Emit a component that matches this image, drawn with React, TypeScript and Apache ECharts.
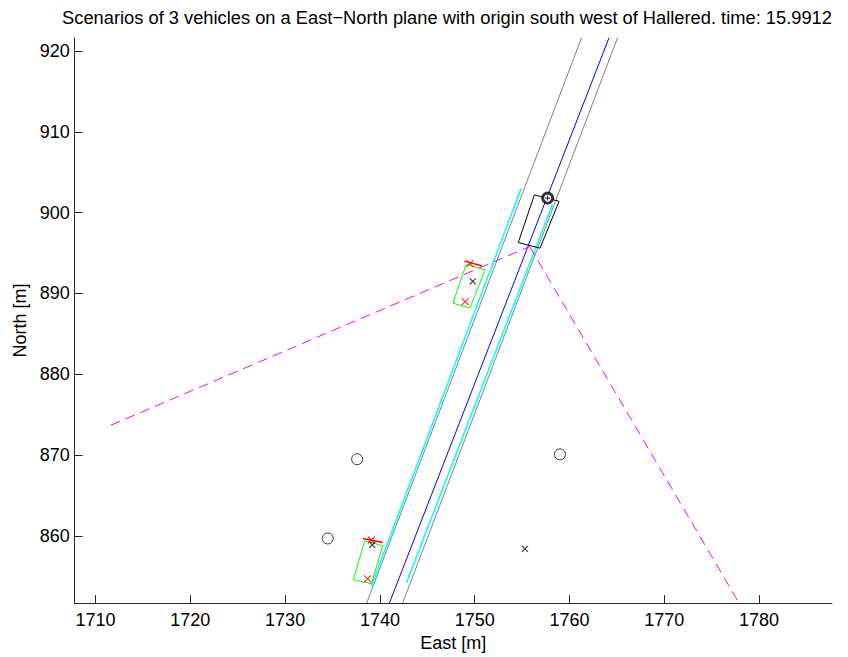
import { useEffect, useRef } from 'react';
import * as echarts from 'echarts';

const titleText = 'Scenarios of 3 vehicles on a East\u2212North plane with origin south west of Hallered. time: 15.9912';
const xName = 'East [m]';
const yName = 'North [m]';

const xTicks = [1710, 1720, 1730, 1740, 1750, 1760, 1770, 1780];
const yTicks = [860, 870, 880, 890, 900, 910, 920];
const xRange = [1707.8, 1787.7];
const yRange = [851.7, 921.6];

// road boundaries (gray) and centre line (blue)
const roadLeft = [[1738.6, 851.7], [1761.3, 921.7]];
const roadRight = [[1742.4, 851.7], [1765.1, 921.7]];
const centerLine = [[1741.0, 851.7], [1764.2, 921.7]];

// lane lines (cyan)
const laneLeft = [[1739.1, 853.8], [1754.9, 903.0]];
const laneRight = [[1742.8, 854.2], [1758.2, 901.0]];

// sensor field of view (magenta dashed)
const fovLeft = [[1711.6, 873.7], [1755.8, 895.8]];
const fovRight = [[1755.8, 895.8], [1777.9, 851.7]];

// ego vehicle box (black)
const egoBox = [[1756.3, 902.2], [1758.9, 901.4], [1756.9, 895.6], [1754.6, 896.3], [1756.3, 902.2]];
// other vehicles (green)
const vehicleBox1 = [[1749.1, 893.6], [1751.1, 892.9], [1749.5, 888.2], [1747.7, 888.8], [1749.1, 893.6]];
const vehicleBox2 = [[1738.4, 859.4], [1740.3, 858.8], [1739.1, 854.1], [1737.2, 854.6], [1738.4, 859.4]];
// heading marks (red)
const heading1 = [[1748.9, 894.0], [1750.8, 893.4]];
const heading2 = [[1738.2, 859.7], [1740.3, 859.2]];

const redCrosses = [[1749.5, 893.7], [1749.0, 889.0], [1739.1, 859.5], [1738.7, 854.7]];
const blackCrosses = [[1749.8, 891.5], [1739.2, 858.9], [1755.3, 858.4]];
const openCircles = [[1737.6, 869.5], [1734.5, 859.7], [1759.0, 870.1]];
const egoPoint = [[1757.7, 901.8]];

const FONT = 'Liberation Sans, Arial, Helvetica, sans-serif';
const AXIS_COLOR = '#262626';
const crossPath = 'path://M0,0L10,10M10,0L0,10';
const plusPath = 'path://M5,0L5,10M0,5L10,5';

function line(data: number[][], color: string, width = 1, type: any = 'solid', z = 2) {
  return {
    type: 'line',
    data,
    symbol: 'none',
    silent: true,
    z,
    lineStyle: { color, width, type },
  };
}

export default function App() {
  const ref = useRef<HTMLDivElement>(null);
  useEffect(() => {
    const chart = echarts.init(ref.current!, null, { renderer: 'svg' });
    chart.setOption({
      animation: false,
      backgroundColor: '#ffffff',
      textStyle: { fontFamily: FONT },
      grid: { left: 74.7, right: 16, top: 38, bottom: 48.3, containLabel: false },
      graphic: [
        {
          type: 'text',
          x: 447,
          y: 17,
          silent: true,
          style: {
            text: titleText,
            fontSize: 18.3,
            fontFamily: FONT,
            fill: '#000',
            align: 'center',
            verticalAlign: 'middle',
          },
        },
      ],
      xAxis: {
        type: 'value',
        min: xRange[0],
        max: xRange[1],
        name: xName,
        nameLocation: 'middle',
        nameGap: 24,
        nameTextStyle: { fontSize: 18, color: '#000', fontFamily: FONT },
        axisLine: { show: true, onZero: false, lineStyle: { color: AXIS_COLOR, width: 1 } },
        axisTick: { show: true, inside: true, length: 8, customValues: xTicks, lineStyle: { color: AXIS_COLOR } },
        axisLabel: {
          show: true,
          customValues: xTicks,
          fontSize: 18,
          color: '#000',
          margin: 8,
          fontFamily: FONT,
          formatter: (v: number) => String(v),
        },
        splitLine: { show: false },
      },
      yAxis: {
        type: 'value',
        min: yRange[0],
        max: yRange[1],
        name: yName,
        nameLocation: 'middle',
        nameGap: 42,
        nameTextStyle: { fontSize: 18, color: '#000', fontFamily: FONT },
        axisLine: { show: true, onZero: false, lineStyle: { color: AXIS_COLOR, width: 1 } },
        axisTick: { show: true, inside: true, length: 8, customValues: yTicks, lineStyle: { color: AXIS_COLOR } },
        axisLabel: {
          show: true,
          customValues: yTicks,
          fontSize: 18,
          color: '#000',
          margin: 5,
          fontFamily: FONT,
          formatter: (v: number) => String(v),
        },
        splitLine: { show: false },
      },
      series: [
        line(roadLeft, '#808080'),
        line(roadRight, '#808080'),
        line(laneLeft, '#00ffff', 1.5, 'solid', 3),
        line(laneRight, '#00ffff', 1.5, 'solid', 3),
        line(centerLine, '#0000ff', 1, 'solid', 4),
        line(fovLeft, '#ff00ff', 1, [10, 6], 4),
        line(fovRight, '#ff00ff', 1, [10, 6], 4),
        line(egoBox, '#000000', 1, 'solid', 5),
        line(vehicleBox1, '#00ff00', 1, 'solid', 5),
        line(vehicleBox2, '#00ff00', 1, 'solid', 5),
        line(heading1, '#ff0000', 1.5, 'solid', 6),
        line(heading2, '#ff0000', 1.5, 'solid', 6),
        {
          type: 'scatter',
          data: redCrosses,
          symbol: crossPath,
          symbolSize: 7,
          silent: true,
          z: 7,
          itemStyle: { color: '#ff0000', borderColor: '#ff0000', borderWidth: 1.2 },
        },
        {
          type: 'scatter',
          data: blackCrosses,
          symbol: crossPath,
          symbolSize: 6,
          silent: true,
          z: 7,
          itemStyle: { color: '#000000', borderColor: '#000000', borderWidth: 1.1 },
        },
        {
          type: 'scatter',
          data: openCircles,
          symbol: 'circle',
          symbolSize: 11,
          silent: true,
          z: 7,
          itemStyle: { color: 'rgba(0,0,0,0)', borderColor: '#000000', borderWidth: 1 },
        },
        {
          type: 'scatter',
          data: egoPoint,
          symbol: 'circle',
          symbolSize: 10,
          silent: true,
          z: 8,
          itemStyle: { color: '#ffffff', borderColor: '#000000', borderWidth: 2.8 },
        },
        {
          type: 'scatter',
          data: egoPoint,
          symbol: plusPath,
          symbolSize: 5,
          silent: true,
          z: 9,
          itemStyle: { color: '#000000', borderColor: '#000000', borderWidth: 1 },
        },
      ],
    });
    return () => chart.dispose();
  }, []);
  return (
    <div
      ref={ref}
      style={{ position: 'absolute', left: 0, top: 0, width: 848, height: 657, background: '#fff' }}
    />
  );
}
